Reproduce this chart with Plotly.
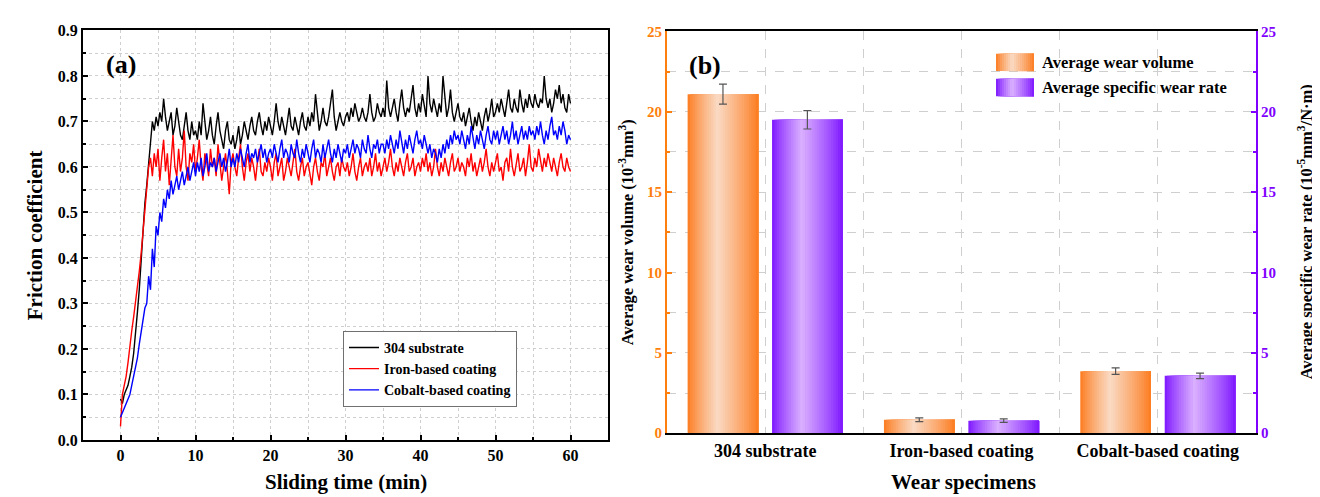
import plotly.graph_objects as go

W, H = 1320, 497

# ---------------- data: panel (a) friction coefficient vs sliding time ----------------
time_min = [i * 0.25 for i in range(241)]

friction_304 = [
    0.09, 0.08, 0.10, 0.11, 0.12, 0.14, 0.16, 0.19, 0.23, 0.28, 0.33, 0.40, 0.46, 0.52, 0.56, 0.61, 0.66, 0.70, 0.68, 0.71,
    0.69, 0.72, 0.70, 0.75, 0.71, 0.68, 0.70, 0.72, 0.67, 0.69, 0.73, 0.70, 0.67, 0.66, 0.69, 0.72, 0.68, 0.66, 0.70, 0.67,
    0.68, 0.66, 0.70, 0.67, 0.74, 0.69, 0.66, 0.68, 0.71, 0.67, 0.65, 0.69, 0.72, 0.68, 0.66, 0.64, 0.68, 0.70, 0.66, 0.65,
    0.67, 0.64, 0.66, 0.69, 0.65, 0.67, 0.70, 0.68, 0.66, 0.69, 0.71, 0.68, 0.67, 0.70, 0.72, 0.69, 0.67, 0.70, 0.68, 0.71,
    0.69, 0.67, 0.70, 0.74, 0.70, 0.68, 0.71, 0.69, 0.67, 0.70, 0.73, 0.69, 0.68, 0.71, 0.69, 0.67, 0.70, 0.72, 0.69, 0.68,
    0.71, 0.69, 0.72, 0.70, 0.76, 0.71, 0.68, 0.70, 0.73, 0.70, 0.69, 0.71, 0.74, 0.77, 0.71, 0.68, 0.70, 0.72, 0.70, 0.69,
    0.71, 0.72, 0.70, 0.73, 0.71, 0.74, 0.72, 0.70, 0.71, 0.73, 0.71, 0.70, 0.72, 0.76, 0.72, 0.70, 0.71, 0.74, 0.72, 0.71,
    0.73, 0.71, 0.79, 0.73, 0.71, 0.73, 0.75, 0.72, 0.70, 0.74, 0.77, 0.73, 0.71, 0.73, 0.72, 0.75, 0.78, 0.73, 0.71, 0.74,
    0.72, 0.76, 0.73, 0.71, 0.80, 0.74, 0.72, 0.75, 0.73, 0.71, 0.74, 0.72, 0.80, 0.75, 0.71, 0.73, 0.77, 0.72, 0.70, 0.72,
    0.74, 0.71, 0.70, 0.72, 0.69, 0.71, 0.73, 0.70, 0.68, 0.71, 0.69, 0.72, 0.70, 0.68, 0.71, 0.73, 0.70, 0.72, 0.75, 0.71,
    0.72, 0.74, 0.72, 0.75, 0.73, 0.71, 0.74, 0.77, 0.73, 0.72, 0.75, 0.73, 0.72, 0.77, 0.74, 0.72, 0.75, 0.73, 0.76, 0.74,
    0.73, 0.76, 0.74, 0.73, 0.75, 0.74, 0.80, 0.75, 0.73, 0.75, 0.72, 0.74, 0.77, 0.75, 0.78, 0.74, 0.76, 0.73, 0.72, 0.76,
    0.74,
]

friction_iron = [
    0.03, 0.10, 0.12, 0.14, 0.17, 0.21, 0.24, 0.27, 0.30, 0.33, 0.37, 0.41, 0.46, 0.51, 0.56, 0.60, 0.62, 0.58, 0.63, 0.60,
    0.64, 0.57, 0.62, 0.66, 0.59, 0.63, 0.56, 0.61, 0.67, 0.60, 0.58, 0.64, 0.59, 0.62, 0.68, 0.60, 0.57, 0.63, 0.61, 0.65,
    0.59, 0.62, 0.66, 0.60, 0.57, 0.63, 0.61, 0.58, 0.64, 0.60, 0.62, 0.58, 0.65, 0.61, 0.57, 0.60, 0.63, 0.59, 0.54, 0.61,
    0.63, 0.60, 0.58, 0.62, 0.65, 0.60, 0.57, 0.61, 0.63, 0.59, 0.62, 0.60, 0.57, 0.61, 0.64, 0.59, 0.58, 0.61, 0.59, 0.62,
    0.60, 0.57, 0.61, 0.63, 0.58, 0.60, 0.62, 0.57, 0.59, 0.62, 0.60, 0.58, 0.61, 0.64, 0.59, 0.57, 0.60, 0.62, 0.58, 0.60,
    0.61, 0.58, 0.56, 0.60, 0.62, 0.59, 0.57, 0.61, 0.60, 0.63, 0.58, 0.60, 0.62, 0.59, 0.57, 0.60, 0.61, 0.58, 0.62, 0.60,
    0.59, 0.61, 0.58, 0.60, 0.63, 0.59, 0.57, 0.60, 0.62, 0.58, 0.60, 0.61, 0.59, 0.62, 0.58, 0.60, 0.63, 0.59, 0.61, 0.58,
    0.60, 0.62, 0.59, 0.61, 0.64, 0.60, 0.58, 0.61, 0.59, 0.62, 0.60, 0.58, 0.61, 0.63, 0.59, 0.60, 0.62, 0.58, 0.60, 0.61,
    0.59, 0.62, 0.60, 0.63, 0.59, 0.61, 0.58, 0.60, 0.64, 0.60, 0.58, 0.61, 0.59, 0.62, 0.60, 0.58, 0.61, 0.63, 0.59, 0.60,
    0.62, 0.59, 0.61, 0.60, 0.58, 0.62, 0.60, 0.63, 0.59, 0.61, 0.58, 0.60, 0.62, 0.59, 0.61, 0.64, 0.60, 0.58, 0.61, 0.59,
    0.61, 0.63, 0.59, 0.60, 0.57, 0.61, 0.62, 0.59, 0.64, 0.60, 0.58, 0.61, 0.63, 0.59, 0.60, 0.62, 0.58, 0.61, 0.65, 0.60,
    0.59, 0.62, 0.60, 0.64, 0.61, 0.59, 0.62, 0.60, 0.63, 0.61, 0.59, 0.62, 0.60, 0.58, 0.61, 0.63, 0.60, 0.59, 0.62, 0.60,
    0.59,
]

friction_cobalt = [
    0.05, 0.06, 0.07, 0.08, 0.09, 0.10, 0.12, 0.14, 0.16, 0.18, 0.21, 0.24, 0.26, 0.29, 0.30, 0.36, 0.33, 0.42, 0.38, 0.47,
    0.45, 0.50, 0.48, 0.53, 0.51, 0.55, 0.53, 0.57, 0.54, 0.56, 0.58, 0.55, 0.57, 0.59, 0.56, 0.58, 0.60, 0.57, 0.59, 0.61,
    0.58, 0.61, 0.59, 0.62, 0.58, 0.60, 0.63, 0.59, 0.61, 0.60, 0.62, 0.59, 0.61, 0.63, 0.60, 0.62, 0.59, 0.61, 0.64, 0.60,
    0.62, 0.60, 0.63, 0.61, 0.64, 0.62, 0.60, 0.63, 0.65, 0.61, 0.63, 0.62, 0.64, 0.61, 0.63, 0.65, 0.62, 0.64, 0.61, 0.63,
    0.64, 0.62, 0.65, 0.63, 0.61, 0.64, 0.66, 0.62, 0.64, 0.63, 0.61, 0.65, 0.63, 0.62, 0.66, 0.63, 0.61, 0.64, 0.62, 0.65,
    0.63, 0.61, 0.64, 0.66, 0.62, 0.64, 0.63, 0.61, 0.65, 0.62, 0.64, 0.66, 0.63, 0.61, 0.64, 0.62, 0.65, 0.63, 0.61, 0.64,
    0.63, 0.65, 0.62, 0.64, 0.66, 0.63, 0.65, 0.64, 0.62, 0.66, 0.64, 0.63, 0.67, 0.64, 0.62, 0.65, 0.64, 0.66, 0.63, 0.65,
    0.65, 0.63, 0.66, 0.64, 0.67, 0.65, 0.63, 0.66, 0.64, 0.68, 0.65, 0.63, 0.66, 0.64, 0.67, 0.65, 0.63, 0.66, 0.68, 0.65,
    0.66, 0.64, 0.67, 0.65, 0.63, 0.65, 0.62, 0.64, 0.63, 0.61, 0.64, 0.62, 0.65, 0.63, 0.66, 0.64, 0.67, 0.65, 0.68, 0.66,
    0.67, 0.65, 0.68, 0.66, 0.64, 0.67, 0.65, 0.69, 0.66, 0.64, 0.67, 0.65, 0.68, 0.66, 0.64, 0.67, 0.69, 0.66, 0.65, 0.68,
    0.66, 0.68, 0.65, 0.67, 0.69, 0.66, 0.68, 0.65, 0.67, 0.70, 0.66, 0.68, 0.65, 0.67, 0.69, 0.66, 0.68, 0.66, 0.69, 0.67,
    0.68, 0.66, 0.69, 0.67, 0.70, 0.67, 0.65, 0.68, 0.66, 0.69, 0.71, 0.67, 0.68, 0.66, 0.69, 0.67, 0.70, 0.68, 0.65, 0.67,
    0.66,
]

series_names = ["304 substrate", "Iron-based coating", "Cobalt-based coating"]
series_colors = ["#000000", "#FF0000", "#0000FF"]

# ---------------- data: panel (b) wear ----------------
specimens = ["304 substrate", "Iron-based coating", "Cobalt-based coating"]
wear_volume = [21.1, 0.84, 3.86]
wear_volume_err = [0.62, 0.12, 0.20]
wear_rate = [19.5, 0.78, 3.57]
wear_rate_err = [0.57, 0.11, 0.17]

# ---------------- styling helpers ----------------
SERIF = "Liberation Serif, Times New Roman, serif"
ORANGE = "#FF7F0E"
PURPLE = "#7F00FF"
GRID = "#cfcfcf"


def px(x):
    return x / W


def py(y):
    return 1 - y / H


orange_edge, orange_light = (252, 122, 28), (250, 218, 196)
purple_edge, purple_light = (124, 20, 255), (218, 176, 255)


def grad(edge, light, u, peak=0.42):
    s = u / peak if u < peak else (1 - u) / (1 - peak)
    s = max(0.0, min(1.0, s)) ** 0.85
    c = [round(e + (l - e) * s) for e, l in zip(edge, light)]
    return "rgb(%d,%d,%d)" % tuple(c)


fig = go.Figure()

# panel (a) lines
for name, col, ys in zip(series_names, series_colors, [friction_304, friction_iron, friction_cobalt]):
    fig.add_trace(go.Scatter(x=time_min, y=ys, mode="lines", name=name,
                             line=dict(color=col, width=1.4), xaxis="x", yaxis="y"))

# panel (b) gradient bars (each bar made of overlapping slices)
cats = list(range(len(specimens)))
BW, GAP, N = 0.36, 0.07, 30
dw = BW / N
bar_specs = [
    (wear_volume, wear_volume_err, -GAP / 2 - BW, orange_edge, orange_light, "y2"),
    (wear_rate, wear_rate_err, GAP / 2, purple_edge, purple_light, "y3"),
]
for vals, errs, start, edge, light, yax in bar_specs:
    for i in range(N):
        u = (i + 0.5) / N
        fig.add_trace(go.Bar(x=cats, y=vals, base=0, offset=start + i * dw, width=BW - i * dw,
                             marker=dict(color=grad(edge, light, u), line=dict(width=0)),
                             showlegend=False, hoverinfo="skip", xaxis="x2", yaxis=yax))
    fig.add_trace(go.Scatter(x=[c + start + BW / 2 for c in cats], y=vals, mode="markers",
                             marker=dict(size=1, color="rgba(0,0,0,0)"),
                             error_y=dict(type="data", array=errs, color="#555555", thickness=1.2, width=4),
                             showlegend=False, hoverinfo="skip", xaxis="x2", yaxis=yax))

# legend swatches for panel (b)
shapes = []
for (edge, light), (y0, y1) in [((orange_edge, orange_light), (39, 57)), ((purple_edge, purple_light), (65, 83))]:
    x0, x1 = 988, 1026
    n = 19
    step = (x1 - x0) / n
    for i in range(n):
        u = (i + 0.5) / n
        shapes.append(dict(type="rect", xref="paper", yref="paper",
                           x0=px(x0 + i * step), x1=px(x1), y0=py(y1), y1=py(y0),
                           fillcolor=grad(edge, light, u), line=dict(width=0), layer="above"))

tickfont_a = dict(family=SERIF, size=16, color="black", weight="bold")

fig.update_layout(
    width=W, height=H,
    margin=dict(l=0, r=0, t=0, b=0),
    paper_bgcolor="white", plot_bgcolor="white",
    barmode="overlay",
    showlegend=True,
    legend=dict(x=px(335), y=py(326), xanchor="left", yanchor="top",
                bgcolor="white", bordercolor="#707070", borderwidth=1,
                font=dict(family=SERIF, size=14, color="black", weight="bold"),
                tracegroupgap=0, itemwidth=30),
    xaxis=dict(domain=[px(75), px(600)], anchor="y", range=[-5, 65], tick0=0, dtick=10,
               ticks="inside", ticklen=5, tickwidth=2, tickcolor="black",
               showline=True, linewidth=2, linecolor="black", mirror=True,
               showgrid=True, gridcolor=GRID, griddash="dot", gridwidth=1, zeroline=False,
               minor=dict(dtick=5, tick0=0, ticks="inside", ticklen=3, tickcolor="black",
                          showgrid=True, gridcolor=GRID, griddash="dot"),
               tickfont=tickfont_a),
    yaxis=dict(domain=[py(439), py(15)], anchor="x", range=[0, 0.9], tick0=0, dtick=0.1, tickformat=".1f",
               ticks="inside", ticklen=5, tickwidth=2, tickcolor="black",
               showline=True, linewidth=2, linecolor="black", mirror=True,
               showgrid=True, gridcolor=GRID, griddash="dot", gridwidth=1, zeroline=False,
               minor=dict(dtick=0.05, tick0=0, ticks="inside", ticklen=3, tickcolor="black",
                          showgrid=True, gridcolor=GRID, griddash="dot"),
               tickfont=tickfont_a),
    xaxis2=dict(domain=[px(659), px(1248)], anchor="y2", range=[-0.5, 2.5],
                tickmode="array", tickvals=cats, ticktext=specimens, ticks="",
                showline=True, linewidth=2, linecolor="black", mirror=True,
                showgrid=True, gridcolor=GRID, griddash="dash", zeroline=False,
                minor=dict(tickmode="array", tickvals=[0.5, 1.5], showgrid=True,
                           gridcolor=GRID, griddash="dash", ticks=""),
                tickfont=dict(family=SERIF, size=18, color="black", weight="bold")),
    yaxis2=dict(domain=[py(432), py(16)], anchor="x2", range=[0, 25], tick0=0, dtick=5,
                ticks="inside", ticklen=5, tickwidth=2, tickcolor=ORANGE,
                showline=True, linewidth=2, linecolor=ORANGE,
                showgrid=True, gridcolor=GRID, griddash="dash", zeroline=False,
                minor=dict(dtick=2.5, tick0=0, ticks="inside", ticklen=3, tickcolor=ORANGE,
                           showgrid=True, gridcolor=GRID, griddash="dash"),
                tickfont=dict(family=SERIF, size=15, color=ORANGE, weight="bold")),
    yaxis3=dict(overlaying="y2", side="right", anchor="x2", range=[0, 25], tick0=0, dtick=5,
                ticks="inside", ticklen=5, tickwidth=2, tickcolor=PURPLE,
                showline=True, linewidth=2, linecolor=PURPLE, showgrid=False, zeroline=False,
                minor=dict(dtick=2.5, tick0=0, ticks="inside", ticklen=3, tickcolor=PURPLE),
                tickfont=dict(family=SERIF, size=15, color=PURPLE, weight="bold")),
    shapes=shapes,
)

ann = []


def add_text(text, x, y, size, angle=0, xanchor="center", color="black"):
    ann.append(dict(text=text, x=px(x), y=py(y), xref="paper", yref="paper", showarrow=False,
                    xanchor=xanchor, yanchor="middle", textangle=angle,
                    font=dict(family=SERIF, size=size, color=color)))


add_text("<b>(a)</b>", 113, 50, 26)
add_text("<b>(b)</b>", 697, 51, 26)
add_text("<b>Friction coefficient</b>", 27, 227, 21, angle=-90)
add_text("<b>Sliding time (min)</b>", 338, 483, 21)
add_text("<b>Wear specimens</b>", 955, 483, 21)
add_text("<b>Average wear volume (10<sup>-3</sup>mm<sup>3</sup>)</b>", 618, 224, 16.5, angle=-90)
add_text("<b>Average specific wear rate (10<sup>-5</sup>mm<sup>3</sup>/N·m)</b>", 1297, 224, 16.5, angle=-90)
add_text("<b>Average wear volume</b>", 1032, 48, 16.5, xanchor="left")
add_text("<b>Average specific wear rate</b>", 1032, 74, 16.5, xanchor="left")
fig.update_layout(annotations=ann)

fig.write_html("out.html")
